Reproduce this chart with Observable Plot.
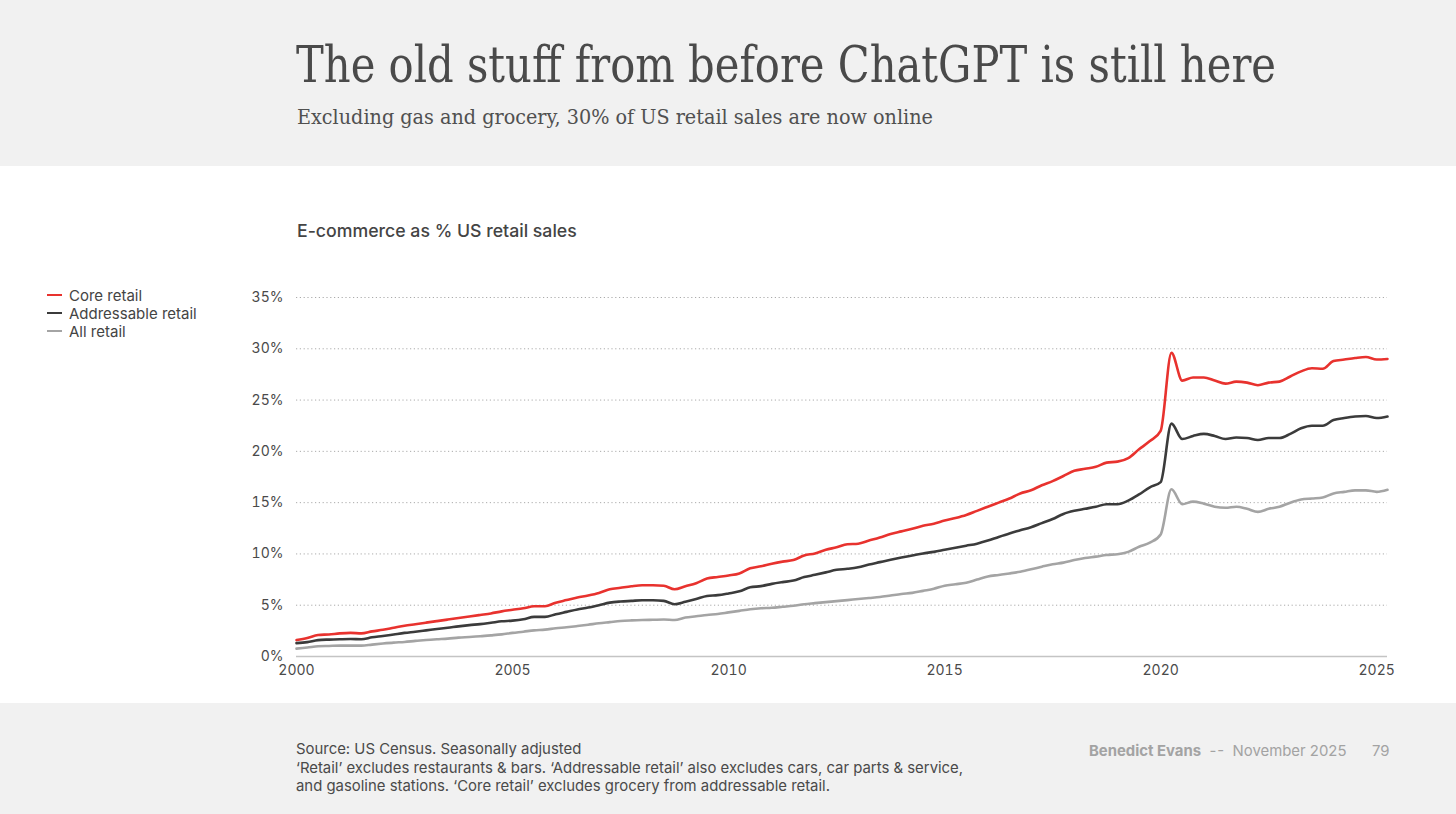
<!DOCTYPE html>
<html>
<head>
<meta charset="utf-8">
<script src="https://cdn.jsdelivr.net/npm/d3@7"></script>
<script src="https://cdn.jsdelivr.net/npm/@observablehq/plot@0.6"></script>
<style>
  html, body { margin: 0; padding: 0; }
  body { width: 1456px; height: 814px; position: relative; background: #ffffff; overflow: hidden; font-family: "Inter", "Roboto", sans-serif; }
  .band { position: absolute; left: 0; width: 1456px; background: #f1f1f1; }
  #title { position: absolute; left: 296px; top: 40px; font-family: "DejaVu Serif Condensed", "DejaVu Serif", serif; font-size: 50px; line-height: 1; color: #4a4a4a; white-space: nowrap; transform-origin: left top; }
  #subtitle { position: absolute; left: 297px; top: 107px; font-family: "DejaVu Serif Condensed", "DejaVu Serif", serif; font-size: 21px; line-height: 1; color: #505050; white-space: nowrap; transform-origin: left top; }
  #charttitle { position: absolute; left: 297px; top: 220px; font-size: 17.7px; font-weight: 500; color: #444; white-space: nowrap; }
  #legend { position: absolute; left: 47px; top: 286px; font-size: 15px; color: #444; }
  .lg { display: flex; align-items: center; height: 18px; }
  .lg span.sw { display: inline-block; width: 15px; height: 2.5px; margin-right: 7px; }
  #chart { position: absolute; left: 0; top: 250px; }
  #footer { position: absolute; left: 296px; top: 740px; font-size: 14.9px; line-height: 18.6px; color: #4a4a4a; white-space: nowrap; }
  #credit { position: absolute; left: 1089px; top: 742px; font-size: 14.9px; color: #a3a3a3; white-space: nowrap; }
  #credit b { font-weight: 700; }
  #page { position: absolute; left: 1372px; top: 742px; font-size: 14.9px; color: #a3a3a3; }
</style>
</head>
<body>
<div class="band" style="top:0;height:166px"></div>
<div class="band" style="top:703px;height:111px"></div>
<div id="title">The old stuff from before ChatGPT is still here</div>
<div id="subtitle">Excluding gas and grocery, 30% of US retail sales are now online</div>
<div id="charttitle">E-commerce as % US retail sales</div>
<div id="legend"></div>
<div id="chart"></div>
<div id="footer">Source: US Census. Seasonally adjusted<br>‘Retail’ excludes restaurants &amp; bars. ‘Addressable retail’ also excludes cars, car parts &amp; service,<br>and gasoline stations. ‘Core retail’ excludes grocery from addressable retail.</div>
<div id="credit"><b>Benedict Evans</b>&nbsp; -<span style="margin-left:1px">-</span>&nbsp; November 2025</div>
<div id="page">79</div>
<script>
// Quarterly data, 2000 Q1 to 2025 Q2 (% of retail sales made online)
const startYear = 2000;
const coreRetail = [
  1.6, 1.8, 2.1, 2.15,
  2.25, 2.3, 2.25, 2.45,
  2.6, 2.8, 3.0, 3.15,
  3.3, 3.45, 3.6, 3.75,
  3.9, 4.05, 4.2, 4.4,
  4.55, 4.7, 4.9, 4.9,
  5.25, 5.5, 5.75, 5.95,
  6.2, 6.55, 6.7, 6.85,
  6.95, 6.95, 6.9, 6.55,
  6.85, 7.15, 7.6, 7.75,
  7.9, 8.1, 8.6, 8.8,
  9.05, 9.25, 9.4, 9.85,
  10.05, 10.4, 10.65, 10.95,
  11.0, 11.3, 11.6, 11.95,
  12.2, 12.45, 12.75, 12.95,
  13.25, 13.5, 13.8, 14.2,
  14.6, 15.0, 15.4, 15.9,
  16.2, 16.7, 17.1, 17.6,
  18.1, 18.3, 18.5, 18.9,
  19.0, 19.35, 20.2, 21.0,
  22.0, 29.6, 26.9, 27.2,
  27.2, 26.9, 26.6, 26.8,
  26.7, 26.45, 26.7, 26.8,
  27.3, 27.8, 28.1, 28.05,
  28.8, 28.95, 29.1, 29.2,
  28.95, 29.0
];
const addressableRetail = [
  1.3, 1.4, 1.6, 1.65,
  1.68, 1.7, 1.68, 1.87,
  2.0, 2.15, 2.3, 2.42,
  2.55, 2.68, 2.8, 2.94,
  3.06, 3.16, 3.29, 3.43,
  3.5, 3.63, 3.86, 3.86,
  4.12, 4.35, 4.58, 4.77,
  5.0, 5.25, 5.36, 5.42,
  5.48, 5.48, 5.42, 5.1,
  5.33, 5.6, 5.9, 5.98,
  6.15, 6.35, 6.75, 6.86,
  7.08, 7.25, 7.4, 7.74,
  7.96, 8.2, 8.45, 8.55,
  8.7, 8.97, 9.2, 9.43,
  9.65, 9.85, 10.05, 10.2,
  10.4, 10.6, 10.8, 11.0,
  11.3, 11.66, 12.0, 12.3,
  12.6, 13.0, 13.4, 13.9,
  14.2, 14.4, 14.6, 14.85,
  14.85, 15.2, 15.8, 16.5,
  17.0, 22.7, 21.2, 21.5,
  21.7, 21.5, 21.2, 21.35,
  21.3, 21.1, 21.3, 21.3,
  21.7, 22.25, 22.5, 22.5,
  23.05, 23.25, 23.4, 23.45,
  23.25, 23.4
];
const allRetail = [
  0.77, 0.87, 1.0, 1.03,
  1.06, 1.06, 1.06, 1.16,
  1.26, 1.35, 1.42, 1.52,
  1.61, 1.68, 1.74, 1.84,
  1.9, 1.97, 2.06, 2.16,
  2.3, 2.42, 2.55, 2.62,
  2.75, 2.85, 2.97, 3.1,
  3.24, 3.35, 3.46, 3.52,
  3.56, 3.58, 3.6, 3.56,
  3.8, 3.92, 4.05, 4.15,
  4.3, 4.45, 4.6, 4.7,
  4.75, 4.85, 4.95, 5.1,
  5.2, 5.3, 5.4, 5.5,
  5.6, 5.7, 5.8, 5.95,
  6.1, 6.2, 6.4, 6.6,
  6.9, 7.04, 7.2, 7.5,
  7.8, 7.95, 8.1, 8.27,
  8.5, 8.76, 9.0, 9.15,
  9.4, 9.6, 9.74, 9.9,
  9.97, 10.2, 10.7, 11.1,
  11.9, 16.3, 14.85, 15.1,
  14.9, 14.6, 14.5, 14.6,
  14.4, 14.1, 14.4, 14.6,
  15.0, 15.3, 15.4, 15.5,
  15.9, 16.05, 16.2, 16.2,
  16.05, 16.25
];
const seriesNames = ["Core retail", "Addressable retail", "All retail"];
const seriesColors = ["#e8322e", "#3b3b3b", "#a4a4a4"];
const yTicks = [0, 5, 10, 15, 20, 25, 30, 35];
const xTicks = [2000, 2005, 2010, 2015, 2020, 2025];

const rows = [];
[coreRetail, addressableRetail, allRetail].forEach((arr, s) => {
  arr.forEach((v, i) => rows.push({ series: seriesNames[s], t: startYear + i / 4, v }));
});

// Fit title widths to the reference
function fit(id, target) {
  const el = document.getElementById(id);
  const w = el.getBoundingClientRect().width;
  el.style.transform = `scaleX(${target / w})`;
}
fit("title", 980);
fit("subtitle", 636);

// Legend
const legend = document.getElementById("legend");
seriesNames.forEach((n, i) => {
  const row = document.createElement("div");
  row.className = "lg";
  const sw = document.createElement("span");
  sw.className = "sw";
  sw.style.background = seriesColors[i];
  row.appendChild(sw);
  row.appendChild(document.createTextNode(n));
  legend.appendChild(row);
});

const chart = Plot.plot({
  width: 1456,
  height: 460,
  marginLeft: 296,
  marginRight: 69,
  marginTop: 47,
  marginBottom: 54,
  style: { fontFamily: "Inter, Roboto, sans-serif", fontSize: "14px", color: "#4a4a4a", background: "transparent", overflow: "visible" },
  x: { domain: [2000, 2025.25], ticks: xTicks, tickFormat: d => String(d), tickSize: 0, tickPadding: 9, label: null },
  y: { domain: [0, 35], ticks: yTicks, tickFormat: d => d + "%", tickSize: 0, tickPadding: 13, label: null },
  color: { domain: seriesNames, range: seriesColors },
  marks: [
    Plot.gridY(yTicks.filter(d => d > 0), { stroke: "#8a8a8a", strokeOpacity: 0.9, strokeWidth: 0.8, strokeDasharray: "1.2,2.6" }),
    Plot.ruleY([0], { stroke: "#c4c4c4", strokeWidth: 1.5 }),
    Plot.lineY(rows, { x: "t", y: "v", z: "series", stroke: "series", strokeWidth: 2.6, curve: "monotone-x" })
  ]
});
document.getElementById("chart").appendChild(chart);
</script>
</body>
</html>
